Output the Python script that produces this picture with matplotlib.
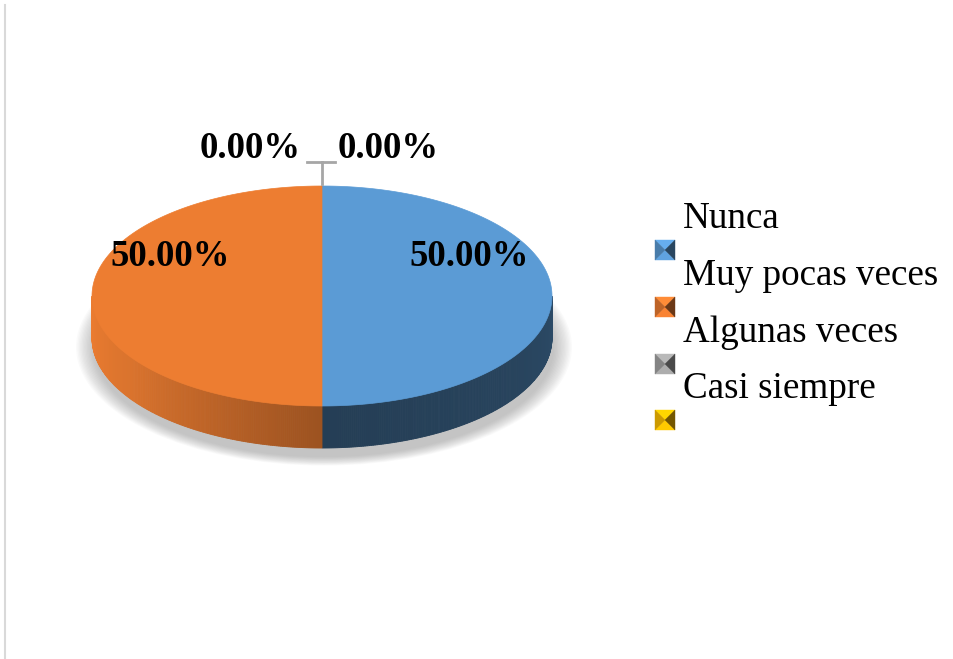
import numpy as np
import matplotlib.pyplot as plt
from matplotlib.patches import Polygon, Ellipse

plt.rcParams['font.family'] = ['Liberation Serif', 'DejaVu Serif']

categories = ['Nunca', 'Muy pocas veces', 'Algunas veces', 'Casi siempre']
values = [50, 50, 0, 0]
colors = ['#5b9bd5', '#ed7d31', '#a5a5a5', '#ffc000']
# how dark each slice's side wall gets at its deepest point
side_dark = [0.40, 0.66, 0.5, 0.5]

W, H = 954, 659
fig = plt.figure(figsize=(W / 100, H / 100), dpi=100)
ax = fig.add_axes([0, 0, 1, 1])
ax.set_xlim(0, W)
ax.set_ylim(H, 0)
ax.axis('off')

# pie geometry in pixel units
cx, cy = 322, 296
rx, ry = 230, 110
depth = 42


def pt(theta, dy=0):
    t = np.radians(theta)
    return cx + rx * np.cos(t), cy - ry * np.sin(t) + dy


def shade(c, f):
    r, g, b = plt.matplotlib.colors.to_rgb(c)
    return (r * f, g * f, b * f)


def side_factor(theta, dark):
    t = theta % 360
    return np.interp(t, [180, 215, 270, 330, 360],
                     [1.0, 0.92, dark, dark * 1.1, dark * 1.2])


# soft shadow under the pie
for i in range(14):
    grow = 1 + i * 0.006
    ax.add_patch(Ellipse((cx + 2, cy + depth + 9), 2 * rx * grow, 2 * ry * grow,
                         color='#808080', alpha=0.04, lw=0, zorder=1))

# slice angles: start at 12 o'clock, clockwise
total = sum(values)
fracs = np.array(values) / total
cum = np.concatenate([[0], np.cumsum(fracs)])
starts = 90 - 360 * cum[:-1]
ends = 90 - 360 * cum[1:]

# side walls on the front half
for a, b, c, d in zip(starts, ends, colors, side_dark):
    if a == b:
        continue
    for k in range(-2, 3):
        lo = max(b, -180 + 360 * k)
        hi = min(a, 360 * k)
        if lo >= hi:
            continue
        ts = np.linspace(lo, hi, int((hi - lo) * 2) + 2)
        for t1, t2 in zip(ts[:-1], ts[1:]):
            p1, p2 = pt(t1), pt(t2)
            q1, q2 = pt(t1, depth), pt(t2, depth)
            col = np.clip(shade(c, side_factor((t1 + t2) / 2, d)), 0, 1)
            ax.add_patch(Polygon([p1, p2, q2, q1], closed=True, fc=col, ec=col,
                                 lw=0.6, zorder=2))

# top face
for a, b, c in zip(starts, ends, colors):
    if a == b:
        continue
    ts = np.linspace(a, b, 200)
    xs, ys = pt(ts)
    verts = [(cx, cy)] + list(zip(xs, ys))
    ax.add_patch(Polygon(verts, closed=True, fc=c, ec=c, lw=0.5, zorder=3))

# data labels
lbl = [f'{v / total * 100:.2f}%' for v in values]
lab_font = dict(fontsize=26.5, fontweight='bold', color='black', zorder=6)
ax.text(469, 257, lbl[0], ha='center', va='center', **lab_font)
ax.text(170, 257, lbl[1], ha='center', va='center', **lab_font)
ax.text(250, 148, lbl[2], ha='center', va='center', **lab_font)
ax.text(388, 148, lbl[3], ha='center', va='center', **lab_font)

# leader lines for the empty slices at the top
x0, y0 = pt(starts[2])
ax.plot([x0, x0], [y0 - 2, 162], color='#a6a6a6', lw=2, zorder=5)
ax.plot([307, 335], [162, 162], color='#a6a6a6', lw=2, zorder=5)

# legend: label text above each bevelled marker
text_y = [228, 285, 342, 398]
for i, (name, c) in enumerate(zip(categories, colors)):
    ax.text(683, text_y[i], name, fontsize=26.7, ha='left', va='baseline', zorder=6)
    x1, y1 = 655, text_y[i] + 12
    s = 20
    ctr = (x1 + s / 2, y1 + s / 2)
    tl, tr, br, bl = (x1, y1), (x1 + s, y1), (x1 + s, y1 + s), (x1, y1 + s)
    for tri, f in [([tl, tr, ctr], 1.12), ([bl, br, ctr], 1.05),
                   ([tl, bl, ctr], 0.8), ([tr, br, ctr], 0.45)]:
        col = np.clip(np.array(shade(c, f)), 0, 1)
        ax.add_patch(Polygon(tri, closed=True, fc=col, ec=col, lw=0.3, zorder=6))

# faint frame edge on the left
ax.plot([5, 5], [5, H], color='#d9d9d9', lw=1.5)

fig.savefig('out.png', dpi=100, facecolor='white')
